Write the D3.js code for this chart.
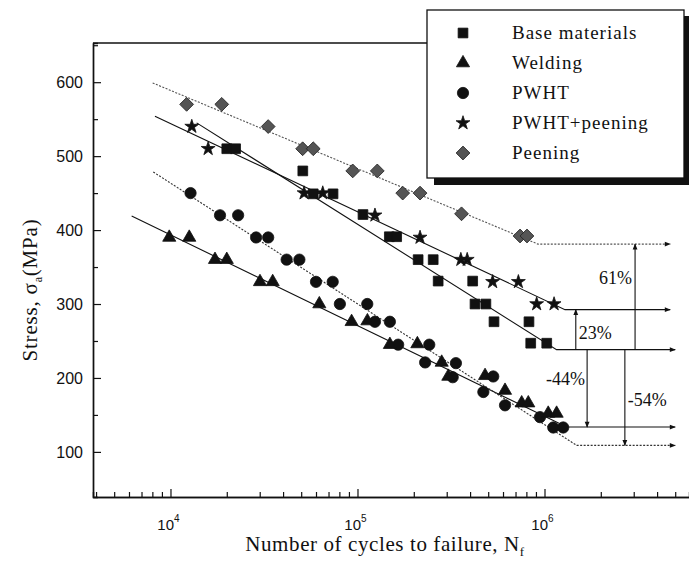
<!DOCTYPE html>
<html>
<head>
<meta charset="utf-8">
<script src="https://cdn.jsdelivr.net/npm/d3@7"></script>
<style>
  body { margin: 0; background: #fff; }
  svg { display: block; }
</style>
</head>
<body>
<div id="chart-area"></div>
<script>
/*
*    S-N curves
*/

// Data: [cycles to failure, stress amplitude MPa]
var baseData = [[20000,510],[22300,510],[51000,480],[58000,449],[74000,449],[107000,421],
  [148000,391],[162000,391],[211000,360],[254000,360],[270000,331],[413000,331],
  [425000,300],[486000,300],[537000,276],[826000,276],[844000,247],[1028000,247]];
var weldData = [[9850,390],[12600,390],[17300,360],[20000,360],[30100,330],[35200,330],
  [62500,300],[93000,276],[113000,277],[149000,245],[209000,246],[282000,221],
  [306000,202],[481000,203],[615000,183],[755000,166],[819000,166],[1047000,152],[1161000,152]];
var pwhtData = [[12800,450],[18400,420],[23000,420],[28700,390],[33300,390],[41800,360],
  [48900,360],[60000,330],[73700,330],[80500,300],[112800,300],[124000,276],[149000,276],
  [165000,245],[242000,245],[230000,221],[336000,220],[323000,201],[532000,202],
  [471000,181],[615000,163],[946000,147],[1114000,133],[1259000,133]];
var starData = [[13000,540],[15900,510],[51800,450],[65200,450],[124000,420],[216000,390],
  [357000,360],[386000,360],[528000,330],[725000,330],[908000,300],[1125000,300]];
var peenData = [[12200,570],[18800,570],[33300,540],[50900,510],[58000,510],[94300,480],
  [127600,480],[174500,450],[216000,450],[360000,422],[740000,392],[806000,392]];

// Fitted curves: start, knee, arrow end
var baseFit = [[13800,545],[1160000,238.3],[5000000,238.3]];
var weldFit = [[6200,419],[1315000,133.6],[5000000,133.6]];
var pwhtFit = [[8090,478.6],[1486000,108.8],[5000000,108.8]];
var starFit = [[8260,554],[1287000,292.4],[4700000,292.4]];
var peenFit = [[8030,599],[922000,381],[4700000,381]];

// Change arrows from base level
var arrowN = [1470000, 3050000, 1690000, 2690000];
var arrowTo = [292.4, 381, 133.6, 108.8];
var arrowText = ["23%", "61%", "-44%", "-54%"];
var baseLevel = 238.3;

var seriesNames = ["Base materials", "Welding", "PWHT", "PWHT+peening", "Peening"];
var yTicks = [100, 200, 300, 400, 500, 600];
var xTicks = [1e4, 1e5, 1e6];

var serif = "'Liberation Serif', 'Times New Roman', serif";
var sans = "'Liberation Sans', Arial, sans-serif";

var width = 689, height = 562;
var svg = d3.select("#chart-area").append("svg").attr("width", width).attr("height", height);

// Scales
var x = d3.scaleLog().domain([3852, 5925000]).range([93, 689]);
var y = d3.scaleLinear().domain([39, 653]).range([497, 43]);

// arrow markers
var defs = svg.append("defs");
defs.append("marker").attr("id", "ah").attr("viewBox", "0 0 10 10").attr("refX", 9).attr("refY", 5)
  .attr("markerWidth", 7).attr("markerHeight", 6).attr("markerUnits", "userSpaceOnUse").attr("orient", "auto")
  .append("path").attr("d", "M0,1L10,5L0,9Z").attr("fill", "#111");

// Frame / axes
svg.append("line").attr("x1", 93).attr("x2", 689).attr("y1", 43).attr("y2", 43).attr("stroke", "#111").attr("stroke-width", 1.3);

var minorY = d3.range(150, 651, 100);
svg.append("g").attr("transform", "translate(93,0)")
  .call(d3.axisLeft(y).tickValues(minorY).tickSize(-5).tickFormat(""));
var yAxis = svg.append("g").attr("transform", "translate(93,0)")
  .call(d3.axisLeft(y).tickValues(yTicks).tickSizeInner(-8).tickSizeOuter(0).tickPadding(10));
yAxis.selectAll("text").attr("font-family", sans).attr("font-size", "16px").attr("fill", "#111");

var minorX = [];
[3, 4, 5, 6].forEach((e) => {
  for (var k = 2; k <= 9; k++) { var v = k * Math.pow(10, e); if (v > 3852 && v < 5925000) minorX.push(v); }
});
svg.append("g").attr("transform", "translate(0,497)")
  .call(d3.axisBottom(x).tickValues(minorX).tickSize(-5).tickFormat(""));
svg.append("g").attr("transform", "translate(0,497)")
  .call(d3.axisBottom(x).tickValues(xTicks).tickSizeInner(-8).tickSizeOuter(0).tickFormat(""));
svg.selectAll(".domain").attr("stroke", "#111").attr("stroke-width", 1.4);
svg.selectAll(".tick line").attr("stroke", "#111").attr("stroke-width", 1.2);

var xLab = svg.append("g").selectAll("text").data(xTicks).enter().append("text")
  .attr("x", (d) => x(d) - 2).attr("y", 530).attr("text-anchor", "middle")
  .attr("font-family", sans).attr("font-size", "15px").attr("fill", "#111");
xLab.append("tspan").text("10");
xLab.append("tspan").attr("dy", -8).attr("font-size", "10px").text((d) => Math.round(Math.log10(d)));

// Labels
var xTitle = svg.append("text").attr("x", 385).attr("y", 551).attr("text-anchor", "middle")
  .attr("font-family", serif).attr("font-size", "21px").attr("letter-spacing", "0.6px").attr("fill", "#111");
xTitle.append("tspan").text("Number of cycles to failure, N");
xTitle.append("tspan").attr("dy", 5).attr("font-size", "13px").text("f");

var yTitle = svg.append("text").attr("transform", "translate(37,290) rotate(-90)").attr("text-anchor", "middle")
  .attr("font-family", serif).attr("font-size", "21px").attr("letter-spacing", "0.8px").attr("fill", "#111");
yTitle.append("tspan").text("Stress, σ");
yTitle.append("tspan").attr("dy", 5).attr("font-size", "12px").text("a");
yTitle.append("tspan").attr("dy", -5).text("(MPa)");

// Fit lines
var line = d3.line().x((d) => x(d[0])).y((d) => y(d[1]));
var fits = [
  {pts: peenFit, stroke: "#555", dash: "2,1.5"},
  {pts: starFit, stroke: "#111", dash: null},
  {pts: baseFit, stroke: "#111", dash: null},
  {pts: weldFit, stroke: "#111", dash: null},
  {pts: pwhtFit, stroke: "#333", dash: "2,1.5"}
];
svg.append("g").selectAll("path").data(fits).enter().append("path")
  .attr("d", (d) => line(d.pts)).attr("fill", "none").attr("stroke", (d) => d.stroke)
  .attr("stroke-width", 1.1).attr("stroke-dasharray", (d) => d.dash).attr("marker-end", "url(#ah)");

// Change arrows
var ann = svg.append("g");
arrowN.forEach((n, i) => {
  ann.append("line").attr("x1", x(n)).attr("x2", x(n)).attr("y1", y(baseLevel)).attr("y2", y(arrowTo[i]))
    .attr("stroke", "#111").attr("stroke-width", 1.1).attr("marker-end", "url(#ah)");
});
var annPos = [
  {dx: 3, anchor: "start"},
  {dx: -3, anchor: "end"},
  {dx: -2, anchor: "end"},
  {dx: 3, anchor: "start"}
];
var annY = [339, 284, 385, 406];
arrowText.forEach((t, i) => {
  ann.append("text").attr("x", x(arrowN[i]) + annPos[i].dx).attr("y", annY[i]).attr("text-anchor", annPos[i].anchor)
    .attr("font-family", serif).attr("font-size", "18px").attr("fill", "#111").text(t);
});

// Markers
var symSquare = d3.symbol().type(d3.symbolSquare).size(95);
var symTri = d3.symbol().type(d3.symbolTriangle).size(75);
var symCircle = d3.symbol().type(d3.symbolCircle).size(100);
var symStar = d3.symbol().type(d3.symbolStar).size(60);
var symDiamond = d3.symbol().type(d3.symbolSquare).size(95);

var series = [
  {data: peenData, sym: symDiamond, fill: "#555", stroke: "#222", rot: 45},
  {data: starData, sym: symStar, fill: "#111", stroke: "#111", rot: 0},
  {data: baseData, sym: symSquare, fill: "#111", stroke: "#111", rot: 0},
  {data: pwhtData, sym: symCircle, fill: "#111", stroke: "#111", rot: 0},
  {data: weldData, sym: symTri, fill: "#111", stroke: "#111", rot: 0}
];
series.forEach((s) => {
  svg.append("g").selectAll("path").data(s.data).enter().append("path")
    .attr("d", s.sym).attr("fill", s.fill).attr("stroke", s.stroke).attr("stroke-width", 0.8)
    .attr("transform", (d) => "translate(" + x(d[0]) + "," + y(d[1]) + ") rotate(" + s.rot + ")");
});

// Legend
var legend = svg.append("g");
legend.append("rect").attr("x", 434).attr("y", 16).attr("width", 255).attr("height", 169).attr("fill", "#111");
legend.append("rect").attr("x", 427).attr("y", 10).attr("width", 257).attr("height", 168)
  .attr("fill", "#fff").attr("stroke", "#111").attr("stroke-width", 1.3);
var legSyms = [
  {sym: symSquare, fill: "#111", stroke: "#111", rot: 0},
  {sym: symTri, fill: "#111", stroke: "#111", rot: 0},
  {sym: symCircle, fill: "#111", stroke: "#111", rot: 0},
  {sym: symStar, fill: "#111", stroke: "#111", rot: 0},
  {sym: symDiamond, fill: "#555", stroke: "#222", rot: 45}
];
seriesNames.forEach((name, i) => {
  var row = legend.append("g").attr("transform", "translate(0," + (33 + i * 30) + ")");
  row.append("path").attr("d", legSyms[i].sym).attr("fill", legSyms[i].fill).attr("stroke", legSyms[i].stroke)
    .attr("stroke-width", 0.8).attr("transform", "translate(463,0) rotate(" + legSyms[i].rot + ")");
  row.append("text").attr("x", 512).attr("y", 6).attr("font-family", serif)
    .attr("font-size", "19px").attr("letter-spacing", "1px").attr("fill", "#111").text(name);
});
</script>
</body>
</html>
